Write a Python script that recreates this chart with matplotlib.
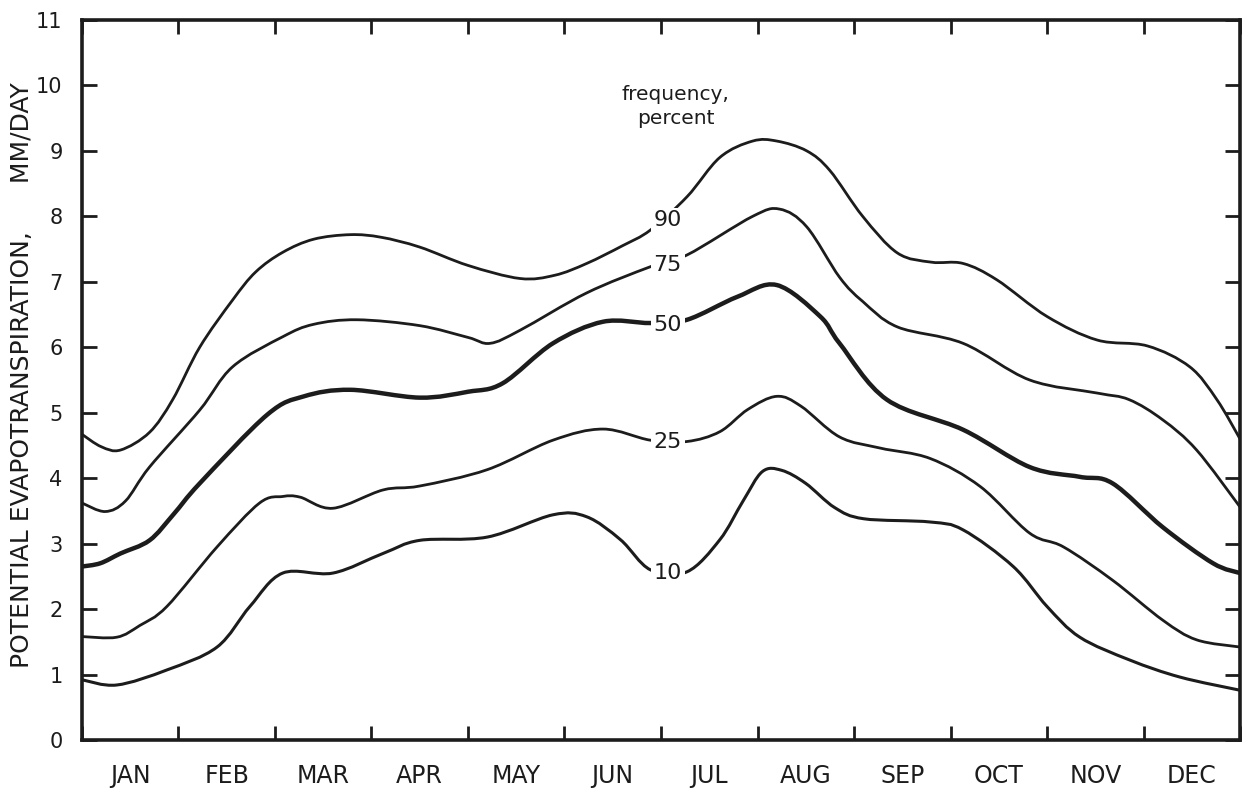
import numpy as np
import matplotlib.pyplot as plt
from matplotlib.path import Path
from matplotlib.patches import PathPatch

plt.rcParams['font.family'] = ['DejaVu Sans']

months = ['JAN', 'FEB', 'MAR', 'APR', 'MAY', 'JUN',
          'JUL', 'AUG', 'SEP', 'OCT', 'NOV', 'DEC']

# x: position through the year in months (0 = 1 Jan, 12 = 31 Dec)
# y: potential evapotranspiration, mm/day
x90 = [0, 0.2, 0.4, 0.7, 0.94, 1.22, 1.56, 1.8, 2.08, 2.4, 2.78, 3.1, 3.5, 4.0,
       4.54, 4.9, 5.23, 5.6, 5.89, 6.27, 6.61, 6.95, 7.2, 7.51, 7.75, 8.09,
       8.45, 8.8, 9.13, 9.48, 10.0, 10.52, 11.04, 11.48, 11.76, 12.0]
y90 = [4.67, 4.48, 4.43, 4.7, 5.2, 6.0, 6.72, 7.15, 7.45, 7.65, 7.72, 7.68, 7.53, 7.25,
       7.05, 7.1, 7.28, 7.55, 7.79, 8.3, 8.9, 9.15, 9.15, 9.0, 8.7, 8.0,
       7.44, 7.3, 7.28, 7.03, 6.47, 6.11, 6.02, 5.7, 5.2, 4.6]

x75 = [0, 0.24, 0.45, 0.7, 1.22, 1.56, 2.08, 2.4, 2.85, 3.5, 4.0, 4.23, 4.54,
       5.23, 5.89, 6.27, 6.95, 7.23, 7.51, 7.85, 8.09, 8.45, 9.13, 9.82, 10.52,
       10.85, 11.2, 11.55, 12.0]
y75 = [3.62, 3.49, 3.65, 4.17, 5.04, 5.7, 6.16, 6.35, 6.42, 6.33, 6.15, 6.06, 6.26,
       6.83, 7.23, 7.41, 8.0, 8.11, 7.84, 7.07, 6.7, 6.31, 6.06, 5.5, 5.3,
       5.2, 4.89, 4.43, 3.56]

x50 = [0, 0.19, 0.4, 0.7, 0.95, 1.22, 1.92, 2.3, 2.78, 3.5, 4.0, 4.36, 4.88,
       5.4, 5.89, 6.27, 6.79, 7.2, 7.65, 7.85, 8.34, 9.13, 9.82, 10.34, 10.68,
       11.2, 11.72, 12.0]
y50 = [2.65, 2.7, 2.85, 3.05, 3.45, 3.92, 4.97, 5.25, 5.35, 5.23, 5.32, 5.45, 6.06,
       6.39, 6.37, 6.42, 6.77, 6.95, 6.47, 6.06, 5.2, 4.74, 4.17, 4.02, 3.92,
       3.25, 2.7, 2.55]

x25 = [0, 0.36, 0.6, 0.88, 1.4, 1.84, 2.08, 2.26, 2.6, 3.12, 3.5, 4.2, 4.88,
       5.4, 5.89, 6.27, 6.61, 6.9, 7.2, 7.45, 7.85, 8.27, 8.79, 9.31, 9.82,
       10.17, 10.68, 11.2, 11.55, 12.0]
y25 = [1.58, 1.57, 1.75, 2.04, 2.95, 3.62, 3.72, 3.71, 3.54, 3.82, 3.88, 4.13, 4.58,
       4.75, 4.58, 4.56, 4.71, 5.05, 5.25, 5.1, 4.63, 4.46, 4.3, 3.87, 3.16,
       2.95, 2.44, 1.83, 1.53, 1.42]

x10 = [0, 0.36, 0.88, 1.4, 1.74, 2.08, 2.6, 3.12, 3.5, 4.2, 4.88, 5.23, 5.58,
       5.89, 6.27, 6.61, 6.85, 7.05, 7.25, 7.5, 7.8, 8.1, 8.79, 9.13, 9.65, 10.0,
       10.34, 10.86, 11.38, 12.0]
y10 = [0.92, 0.84, 1.07, 1.42, 2.04, 2.55, 2.55, 2.85, 3.05, 3.1, 3.44, 3.41, 3.06,
       2.6, 2.57, 3.06, 3.65, 4.1, 4.12, 3.92, 3.55, 3.38, 3.33, 3.21, 2.65, 2.04,
       1.57, 1.22, 0.96, 0.76]

freq_labels = [90, 75, 50, 25, 10]
label_x = 6.07
label_y = [7.94, 7.26, 6.34, 4.55, 2.55]


def smooth_path(x, y):
    # Catmull-Rom style bezier through the points
    pts = np.column_stack([x, y]).astype(float)
    n = len(pts)
    verts = [pts[0]]
    codes = [Path.MOVETO]
    for i in range(n - 1):
        p0 = pts[max(i - 1, 0)]
        p1 = pts[i]
        p2 = pts[i + 1]
        p3 = pts[min(i + 2, n - 1)]
        verts += [p1 + (p2 - p0) / 6, p2 - (p3 - p1) / 6, p2]
        codes += [Path.CURVE4] * 3
    return Path(verts, codes)


ink = '#1c1c1c'
fig = plt.figure(figsize=(12.44, 7.95), dpi=100)
ax = fig.add_axes([0.0659, 0.0692, 0.9309, 0.9057])

series = [(x90, y90, 2.0), (x75, y75, 2.0), (x50, y50, 3.2), (x25, y25, 2.0), (x10, y10, 2.2)]
for (xs, ys, lw) in series:
    ax.add_patch(PathPatch(smooth_path(xs, ys), fill=False, edgecolor=ink, lw=lw,
                           capstyle='round', joinstyle='round', zorder=2))

for lab, ly in zip(freq_labels, label_y):
    ax.text(label_x, ly, str(lab), ha='center', va='center', fontsize=16, color=ink,
            zorder=3, bbox=dict(boxstyle='square,pad=0.12', fc='white', ec='none'))

ax.text(6.15, 9.68, 'frequency,\npercent', ha='center', va='center', fontsize=14.5,
        color=ink, linespacing=1.35)

ax.set_xlim(0, 12)
ax.set_ylim(0, 11)

ax.set_xticks(np.arange(0, 13))
ax.set_xticks(np.arange(12) + 0.5, minor=True)
ax.set_xticklabels([])
ax.set_xticklabels(months, minor=True, fontsize=17, color=ink)
ax.tick_params(axis='x', which='major', direction='in', length=10, width=2,
               top=True, bottom=True, color=ink)
ax.tick_params(axis='x', which='minor', length=0, pad=17)

ax.set_yticks(np.arange(0, 12))
ax.set_yticklabels([str(v) for v in range(12)], fontsize=15, color=ink)
ax.tick_params(axis='y', direction='in', length=11, width=2, left=True, right=True,
               pad=14, color=ink)

for side, sp in ax.spines.items():
    sp.set_color(ink)
    sp.set_linewidth(2.6)

fig.text(0.018, 0.528, 'POTENTIAL EVAPOTRANSPIRATION,      MM/DAY', rotation=90,
         ha='center', va='center', fontsize=18, color=ink)

fig.savefig('out.png', dpi=100, facecolor='white')
